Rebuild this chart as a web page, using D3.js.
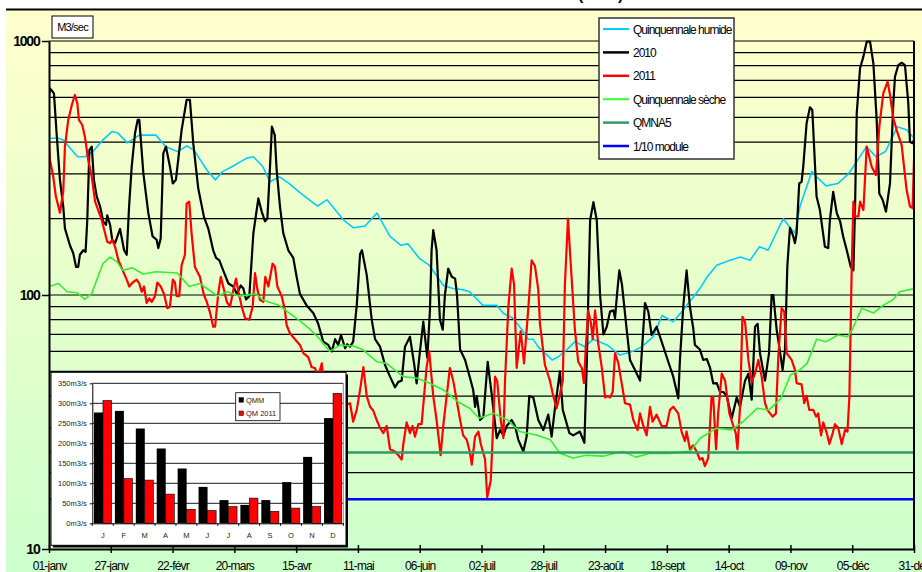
<!DOCTYPE html>
<html>
<head>
<meta charset="utf-8">
<script src="https://cdn.jsdelivr.net/npm/d3@7"></script>
<style>
  body { margin: 0; background: #fff; }
  svg { display: block; }
  text { font-family: "Liberation Sans", Arial, sans-serif; }
</style>
</head>
<body>
<svg id="chart" width="922" height="572"></svg>
<script>
// x axis labels, one every 26 days
const tickLabels = ['01-janv', '27-janv', '22-févr', '20-mars', '15-avr', '11-mai', '06-juin', '02-juil',
  '28-juil', '23-août', '18-sept', '14-oct', '09-nov', '05-déc', '31-déc'];
const yTicks = [10, 100, 1000];
const gridValues = [20, 30, 40, 50, 60, 70, 80, 90, 100, 200, 300, 400, 500, 600, 700, 800, 900, 1000];

// [day of year, m3/s]
const humide = [[0,414],[4,414],[6,408],[12,350],[15,350],[18.5,367],[22.7,408],[26.5,440],[29,434],[33,397],[38,426],[45,426],
  [49,384],[54,367],[58,386],[61,372],[66.5,310],[70,284],[73,306],[77,320],[83,345],[86,350],[90,320],[93,279],[97,292],
  [101,275],[106,251],[113,224],[117,237],[124,197],[128,184],[133,187],[138,210],[143.5,170],[148,157],[151,159],[156,139],
  [160,131],[166,109],[170,106],[174,105],[177,103],[182.6,91],[188.5,91],[191,85],[195.3,81],[199,73],[201.6,67],[203.7,67],
  [205.8,62.6],[211.7,55.5],[214.2,57],[218,61],[221.3,65.5],[225.6,62.6],[229,67],[234.8,63.6],[240.3,58],[245.8,60],
  [249.5,62.6],[254.2,68.5],[258,83],[262.6,78.5],[266.8,87],[273.9,106],[277,118],[281,131],[286.6,137],[291,141],[295,137],
  [299,155],[302.6,150],[306,175],[309,200],[312,183],[314,175],[316,223],[321,306],[323,292],[327,269],[332,275],[336,297],
  [338,315],[344,384],[348,350],[352,367],[357,460],[361,446],[364,414]];

const seche = [[0,108],[4,111],[7.6,103],[12,102],[15,96],[18,101.5],[22.7,133],[25.7,141],[28.6,135],[31,125],[35,128],
  [39.6,121],[45,123.5],[54,122],[59,108],[63.5,111],[71,99],[75,103],[80,99],[87,101],[90,95.6],[97,91],[101,85],[106,78.5],
  [110,73],[114,67],[118,60],[122.5,63.5],[128,63],[132,61],[138,54.6],[142,53.8],[149,47.7],[155,47],[160,45],[166,42.3],
  [172,38],[177,35.8],[181,32.7],[187,34.2],[193,32.2],[198,29],[205,28.1],[211,26.9],[215,23.8],[220.5,22.8],[226,23.4],
  [233,23.2],[241.5,24.2],[247,23],[253,23.8],[261,23.8],[270,24.3],[274,27.3],[281,29.9],[287,29.4],[292,31.7],[298,35.8],
  [303,35.3],[308,39.2],[312,48.4],[316,50.7],[319,53.8],[323,66.9],[327,65.5],[332,69.6],[336,68.5],[338,73],[342,88.7],
  [347,85],[351,91],[355,95.6],[358,103],[364,106]];

const y2010 = [[0,604],[0.4,651],[1.6,631],[2.1,620],[3.2,433],[4.6,284],[6,223],[6.7,183],[8.8,157],[10.2,146],[11.4,129],
  [12.3,129],[13,144],[14.4,150],[15.4,148],[16.1,197],[17,372],[18,384],[18.9,284],[20.1,244],[21.5,223],[22.8,195],[24,189],
  [24.5,206],[25.7,189],[26.6,165],[27.8,160],[29.9,182],[31.6,150],[32.7,144],[33.7,223],[34.8,320],[36.2,433],[37.3,489],
  [38,489],[39.7,302],[41.8,210],[43.6,170],[45.3,165],[46,153],[47,167],[48.1,361],[49.2,384],[50.9,320],[52.1,275],
  [53.4,284],[55.8,446],[57.9,586],[59.3,586],[60.7,396],[62.8,263],[65.2,203],[67,183],[69.1,150],[70.3,140],[71.7,137],
  [73.3,125],[75.5,111],[77.6,108],[79,101],[80.7,109],[81.8,106],[82.9,96],[84.3,99],[86,175],[88.1,240],[89.5,213],
  [90.9,195],[91.9,200],[93,320],[93.8,460],[95,426],[95.8,310],[97.2,223],[98.6,175],[100.7,150],[102.8,140],[104.2,118],
  [105.6,101],[108.4,91],[111.2,85],[113.3,77],[115.4,65.5],[117.5,63.6],[119,60],[120.4,67],[121.7,63.6],[122.9,69.6],
  [124.6,61.7],[125.5,64],[126.7,62.6],[128,65.5],[129.5,91],[130.9,145],[131.7,150],[133.7,120],[135.8,80],[137.2,67],
  [139.3,62.6],[141.4,53],[143.5,47.7],[145.6,43.3],[147,45.5],[148.4,46],[149.8,62.6],[151.9,68.5],[153.6,54],[154.7,44.9],
  [155.8,56.5],[157.5,78.5],[159.2,56.5],[160.3,87],[161,150],[161.7,180],[163.1,150],[164.5,80],[165.7,73],[166.6,100],
  [168,127],[169.5,118],[170.9,116],[171.7,100],[173,61],[175.1,55.5],[177.2,47],[178.5,42.3],[179.3,36.3],[180,40],
  [181.4,32.2],[182.8,33.2],[184.6,54.6],[186.3,40.6],[188.4,27.3],[189.8,29.4],[191.2,28],[192.6,30.5],[194.7,32.2],
  [196.1,30.5],[197.5,26.9],[199.6,24.2],[201,27.7],[202.1,40],[203.8,39.5],[205.9,32.2],[208,29.4],[210.1,33.8],[211.5,27.7],
  [212.9,35.8],[215,50],[216.2,35.3],[219,28.6],[220.6,28],[223.4,29],[225.3,26.2],[226.3,54],[227.7,197],[229.1,232],
  [230.5,197],[231.9,100],[233.3,70],[234.7,75],[236.1,86],[237.5,87],[238.2,81],[239,100],[240,125],[241.1,110],[243.1,73],
  [244.5,55.5],[246.6,50.7],[248.7,46],[250.8,93],[252.2,86],[253.6,69.6],[255.7,75],[257.8,65.5],[260.6,54.6],[262.7,47.7],
  [264.8,39.2],[265.5,55.5],[266.9,90],[268.3,125],[269.7,90],[271.1,74],[271.8,63.6],[273.9,61],[275.3,55.5],[276.8,56],
  [278.2,51.6],[279.5,44.9],[281,45],[282.4,41.5],[283.8,41.5],[285.2,40],[287.3,32.7],[289.4,39.5],[290.8,36.3],[292.9,46],
  [294.3,49],[295.7,38.7],[297.1,75],[298.2,77],[299.2,59],[301.3,46],[303,59],[304.1,100],[304.8,100],[306.2,73],
  [307.3,62.6],[308.7,50.7],[309.7,61],[310.7,130],[311.8,184],[313.2,170],[313.9,160],[314.6,175],[315.7,275],[316.7,279],
  [317.4,320],[318.8,474],[320.2,548],[321.2,535],[322.3,330],[323,244],[324.4,216],[326.5,155],[327.9,153],[328.6,197],
  [330,255],[331.5,210],[332.9,195],[334.2,170],[335.7,150],[337.4,129],[338.5,125],[339.2,223],[339.9,519],[341.3,781],
  [342.7,868],[344.1,994],[345.5,994],[346.9,817],[348.3,489],[349.4,251],[350.8,237],[352.2,213],[353.9,275],[355.3,569],
  [356,724],[357.4,804],[358.8,821],[360.2,804],[361.6,569],[362.3,401],[363.4,396],[364,408]];

const y2011 = [[0,396],[0.4,340],[1.8,292],[2.9,244],[4.6,211],[6,255],[6.7,384],[8.1,489],[9.6,560],[10.9,613],[11.9,569],
  [12.6,489],[14,467],[15.1,420],[16.5,340],[18,292],[19.4,233],[20.7,216],[22.2,197],[23.6,175],[24.5,162],[25.7,160],
  [26.6,165],[27.8,155],[29.2,137],[31,125],[32.7,115],[33.8,108],[35.2,112],[36.9,115],[38,111],[39,103],[40,108],[41.1,93],
  [42.2,97],[43.2,94],[44.6,99],[45.6,112],[47,108],[48.4,101],[49.8,88.7],[50.9,90],[52.1,115],[53,112],[53.7,99],[54.8,99],
  [55.8,131],[57.2,144],[57.9,229],[59,233],[60,175],[61.4,129],[63.5,118],[65.2,100],[66.4,94],[67.8,85],[69.1,75],[69.9,75],
  [71.2,101],[72.3,118],[73.3,108],[74.8,94],[76.2,90],[77.6,105],[78.7,116],[79.7,103],[81.1,90],[82.5,81],[84.3,80],
  [85.7,90],[86.7,122],[87.7,105],[88.8,95.6],[90.2,94],[91,118],[92.3,108],[94.1,133],[95.1,129],[96.1,108],[97.9,99],
  [99.3,87],[100,76],[101.4,70.7],[103.5,67],[105.6,63.6],[107,59],[109.1,57],[110.5,52],[111.9,51.6],[113.3,47.7],
  [114.8,53.8],[115.4,47.7],[125.3,37],[126.7,37.5],[128,31.7],[129.5,35.3],[130.9,42.3],[132.3,52],[133.7,40],[135.1,36.3],
  [136.5,35],[137.9,32.2],[139.3,30],[140.7,28.6],[142.1,30.5],[143.5,24.7],[145.6,24.2],[147,23.4],[148.4,22.5],[149.1,25.9],
  [150.5,31.5],[151.9,28.6],[153,30.5],[154,27.7],[155.4,31],[156.8,31],[158.9,52],[160,60],[161.7,40],[163.1,32.2],
  [164.8,23.4],[165.9,30.5],[168.7,51.6],[170.1,46],[173,32.2],[174.3,28],[175.8,26.9],[177.2,23.8],[177.9,21.5],[179.3,27.7],
  [180.7,29],[181.7,25.9],[183.5,22.5],[184.4,16],[185.9,18.6],[187,32.2],[187.7,47.7],[188.6,46],[190.1,32.2],[191.2,27.3],
  [191.9,46],[193.3,90],[194.7,127],[195.7,110],[196.8,51.6],[198.5,72],[199.9,53.8],[201.7,88.7],[203.1,137],[204.5,130],
  [205.9,105],[206.6,77],[208.7,53],[210.8,46],[212.2,40],[213.6,35.8],[214.7,39.5],[216.2,46],[217.1,110],[218.4,200],
  [219.2,150],[221.3,73],[222.7,54.6],[224.2,51.6],[225.1,45],[225.9,62.6],[226.9,87],[228.1,77],[228.8,67],[229.8,87],
  [231.1,64.5],[232.6,52],[234,39.5],[235.1,40],[236.1,39.5],[237.2,41.5],[238.2,59],[239.6,53.8],[242.4,37.5],[244.5,37],
  [245.9,32.2],[247.7,29.4],[248.7,34.2],[250.1,30.5],[251.5,28],[252.9,36.3],[254,31.7],[255.7,33.8],[257.8,30.5],
  [259.9,30.5],[261.3,35.3],[262.7,36.3],[264.8,34.2],[266.2,29],[267.6,26.6],[268.3,29],[269.7,24.7],[271.1,25.6],
  [272.5,24.2],[273.9,22.5],[275,22.8],[276,21.2],[277.4,22.8],[278.8,39.5],[279.5,39.5],[280.7,24.7],[281.6,34.2],[283.1,49],
  [284.5,46],[286.3,34.2],[288,30.5],[289,28.6],[289.7,24.7],[290.8,36.3],[291.8,82],[292.9,78.5],[294.3,55.5],[295.7,45.5],
  [297.1,49],[298.5,55.5],[299.9,47.7],[301.3,37.5],[302.3,35.3],[304.5,33.2],[305.9,34.2],[306.9,57],[308.3,88.7],[309.4,86],
  [310.4,59],[312.5,55.5],[313.9,50.7],[314.6,45],[316.7,44.5],[317.8,37.5],[318.8,40.1],[319.9,35.3],[321.6,35.3],
  [322.8,33.2],[323.7,34.2],[324.9,28],[325.8,31.5],[327.3,28.6],[328.4,25.9],[329.8,28.6],[330.7,31],[332.1,30],[333.6,25.9],
  [335,29.4],[336,29],[336.8,39.5],[337.8,129],[338.5,233],[339.2,204],[340.6,204],[341.3,233],[342.7,216],[344.1,384],
  [346.2,320],[348,297],[349.4,460],[351.1,623],[352.9,692],[353.9,613],[355.3,496],[356.7,446],[358.8,389],[360.9,259],
  [362.3,223],[363.4,220],[364,340]];

const qmna5 = 24;
const dixiemeModule = 15.7;

// inset : monthly means
const months = ['J', 'F', 'M', 'A', 'M', 'J', 'J', 'A', 'S', 'O', 'N', 'D'];
const qmm = [277, 281, 237, 187, 137, 91, 58, 46, 58, 103, 166, 263];
const qm2011 = [307, 112, 108, 73, 35, 32, 42, 63, 30, 38, 42, 325];
const insetTicks = [0, 50, 100, 150, 200, 250, 300, 350];

const legendItems = [
  {label: 'Quinquennale humide', color: '#00ccff', w: 2},
  {label: '2010', color: '#000000', w: 2.5},
  {label: '2011', color: '#ff0000', w: 2.5},
  {label: 'Quinquennale sèche', color: '#33ff33', w: 2},
  {label: 'QMNA5', color: '#339966', w: 2.5},
  {label: '1/10 module', color: '#0000ff', w: 2.5}
];

const svg = d3.select('#chart');
const t0 = Date.UTC(2011, 0, 1);
const toDate = d => new Date(t0 + d * 864e5);

const x = d3.scaleUtc().domain([toDate(0), toDate(364)]).range([49, 914]);
const y = d3.scaleLog().domain([10, 1000]).range([549, 41]);

const defs = svg.append('defs');
const grad = defs.append('linearGradient').attr('id', 'bg')
  .attr('x1', 0).attr('y1', 0).attr('x2', 0).attr('y2', 1);
grad.append('stop').attr('offset', '0%').attr('stop-color', '#ffffcc');
grad.append('stop').attr('offset', '100%').attr('stop-color', '#ccffcc');
defs.append('clipPath').attr('id', 'plotClip').append('rect')
  .attr('x', x.range()[0]).attr('y', y(1000) - 1)
  .attr('width', x.range()[1] - x.range()[0]).attr('height', y(10) - y(1000) + 1);

// background + top rule
svg.append('rect').attr('x', 6).attr('y', 10).attr('width', 916).attr('height', 562).style('fill', 'url(#bg)');
svg.append('line').attr('x1', 6).attr('x2', 922).attr('y1', 9.5).attr('y2', 9.5)
  .style('stroke', '#000').style('stroke-width', 2);
svg.append('text').attr('x', 578).attr('y', -0.5).text('(2011)')
  .style('font-size', '16px').style('font-weight', 'bold');

// gridlines
svg.append('g').selectAll('line').data(gridValues).enter().append('line')
  .attr('x1', x.range()[0]).attr('x2', x.range()[1])
  .attr('y1', d => y(d)).attr('y2', d => y(d))
  .style('stroke', '#000').style('stroke-width', 1.2);

// series
const line = d3.line().x(d => x(toDate(d[0]))).y(d => y(d[1]));
const plot = svg.append('g').attr('clip-path', 'url(#plotClip)');
const series = [
  {data: humide, color: '#00ccff', w: 1.6},
  {data: y2010, color: '#000000', w: 2.2},
  {data: y2011, color: '#ff0000', w: 2.2},
  {data: seche, color: '#33ee33', w: 1.6},
  {data: [[0, qmna5], [364, qmna5]], color: '#339966', w: 2.6},
  {data: [[0, dixiemeModule], [364, dixiemeModule]], color: '#0000ff', w: 2.6}
];
plot.selectAll('path').data(series).enter().append('path')
  .attr('d', d => line(d.data))
  .style('fill', 'none')
  .style('stroke', d => d.color)
  .style('stroke-width', d => d.w)
  .style('stroke-linejoin', 'round');

// frame
svg.append('line').attr('x1', 914).attr('x2', 914).attr('y1', y(1000)).attr('y2', y(10))
  .style('stroke', '#000').style('stroke-width', 2);

// y axis
const yAxis = svg.append('g').attr('transform', 'translate(49,0)')
  .call(d3.axisLeft(y).tickValues(yTicks).tickFormat(d3.format('d')).tickSize(7).tickSizeOuter(0).tickPadding(2.5));
yAxis.select('.domain').style('stroke', '#000').style('stroke-width', 2);
yAxis.selectAll('.tick line').style('stroke', '#000').style('stroke-width', 1.5);
yAxis.selectAll('.tick text').style('font-size', '14px').style('font-weight', 'bold')
  .style('letter-spacing', '-1.2px').style('fill', '#000').style('font-family', '"Liberation Sans", Arial, sans-serif');

// x axis
const tickDates = tickLabels.map((d, i) => toDate(26 * i));
const xAxis = svg.append('g').attr('transform', 'translate(0,549)')
  .call(d3.axisBottom(x).tickValues(tickDates).tickFormat((d, i) => tickLabels[i]).tickSize(4).tickSizeOuter(0).tickPadding(8.5));
xAxis.select('.domain').style('stroke', '#000').style('stroke-width', 2);
xAxis.selectAll('.tick line').attr('y1', -4).attr('y2', 4).style('stroke', '#000').style('stroke-width', 1.5);
xAxis.selectAll('.tick text').style('font-size', '12px').style('letter-spacing', '-0.8px')
  .style('fill', '#000').style('font-family', '"Liberation Sans", Arial, sans-serif');

// unit box
svg.append('rect').attr('x', 52).attr('y', 16).attr('width', 41).attr('height', 22)
  .style('fill', '#fff').style('stroke', '#000').style('stroke-width', 1);
svg.append('text').attr('x', 72.5).attr('y', 31).attr('text-anchor', 'middle').text('M3/sec')
  .style('font-size', '11px').style('letter-spacing', '-0.8px');

// legend
const legend = svg.append('g');
legend.append('rect').attr('x', 599).attr('y', 18).attr('width', 135).attr('height', 141)
  .style('fill', '#fff').style('stroke', '#333').style('stroke-width', 1.5);
const rows = legend.selectAll('.row').data(legendItems).enter().append('g')
  .attr('class', 'row')
  .attr('transform', (d, i) => `translate(0,${29 + i * 23.4})`);
rows.append('line').attr('x1', 603).attr('x2', 629)
  .style('stroke', d => d.color).style('stroke-width', d => d.w);
rows.append('text').attr('x', 633).attr('y', 4.5).text(d => d.label)
  .style('font-size', '12px').style('letter-spacing', '-1px');

// inset bar chart
const inset = svg.append('g');
inset.append('rect').attr('x', 53).attr('y', 374.5).attr('width', 295).attr('height', 173)
  .style('fill', '#000');
inset.append('rect').attr('x', 51).attr('y', 372.3).attr('width', 295).attr('height', 173)
  .style('fill', '#fff').style('stroke', '#000').style('stroke-width', 1);

const xb = d3.scaleBand().domain(d3.range(12)).range([92.3, 343.3]);
const yb = d3.scaleLinear().domain([0, 350]).range([523.3, 383.3]);

inset.append('g').selectAll('line').data(insetTicks.slice(1)).enter().append('line')
  .attr('x1', xb.range()[0]).attr('x2', xb.range()[1])
  .attr('y1', d => yb(d)).attr('y2', d => yb(d))
  .style('stroke', '#000').style('stroke-width', 0.9);
inset.append('line').attr('x1', 343.3).attr('x2', 343.3).attr('y1', yb(350)).attr('y2', yb(0))
  .style('stroke', '#888').style('stroke-width', 1);

const bw = xb.bandwidth();
inset.append('g').selectAll('rect').data(qmm).enter().append('rect')
  .attr('x', (d, i) => xb(i) + bw * 0.08).attr('width', bw * 0.43)
  .attr('y', d => yb(d)).attr('height', d => yb(0) - yb(d))
  .style('fill', '#000');
inset.append('g').selectAll('rect').data(qm2011).enter().append('rect')
  .attr('x', (d, i) => xb(i) + bw * 0.51).attr('width', bw * 0.41)
  .attr('y', d => yb(d)).attr('height', d => yb(0) - yb(d))
  .style('fill', '#ff0000').style('stroke', '#000').style('stroke-width', 0.6);

const ibY = inset.append('g').attr('transform', 'translate(92.3,0)')
  .call(d3.axisLeft(yb).tickValues(insetTicks).tickFormat(d => d + 'm3/s').tickSize(2.5).tickSizeOuter(0).tickPadding(3));
ibY.select('.domain').style('stroke', '#000');
ibY.selectAll('.tick text').style('font-size', '7.5px').style('fill', '#222')
  .style('font-family', '"Liberation Sans", Arial, sans-serif');

const ibX = inset.append('g').attr('transform', 'translate(0,523.3)')
  .call(d3.axisBottom(xb).tickFormat(i => months[i]).tickSize(0).tickSizeOuter(0).tickPadding(9));
ibX.select('.domain').style('stroke', '#000');
ibX.selectAll('.tick text').style('font-size', '7.5px').style('fill', '#222')
  .style('font-family', '"Liberation Sans", Arial, sans-serif');
inset.append('g').selectAll('line').data(d3.range(13)).enter().append('line')
  .attr('x1', i => xb.range()[0] + i * xb.step()).attr('x2', i => xb.range()[0] + i * xb.step())
  .attr('y1', yb(0)).attr('y2', yb(0) + 2.5)
  .style('stroke', '#000');

// inset legend
const il = inset.append('g');
il.append('rect').attr('x', 235.7).attr('y', 392.7).attr('width', 44.3).attr('height', 28)
  .style('fill', '#fff').style('stroke', '#000').style('stroke-width', 0.8);
const ilItems = [{label: 'QMM', color: '#000'}, {label: 'QM 2011', color: '#ff0000'}];
const ilRows = il.selectAll('.irow').data(ilItems).enter().append('g')
  .attr('class', 'irow')
  .attr('transform', (d, i) => `translate(0,${400 + i * 13.3})`);
ilRows.append('rect').attr('x', 239).attr('y', -2.3).attr('width', 4.5).attr('height', 4.5)
  .style('fill', d => d.color).style('stroke', '#000').style('stroke-width', 0.5);
ilRows.append('text').attr('x', 246).attr('y', 2.7).text(d => d.label)
  .style('font-size', '7.5px').style('fill', '#222');
</script>
</body>
</html>
